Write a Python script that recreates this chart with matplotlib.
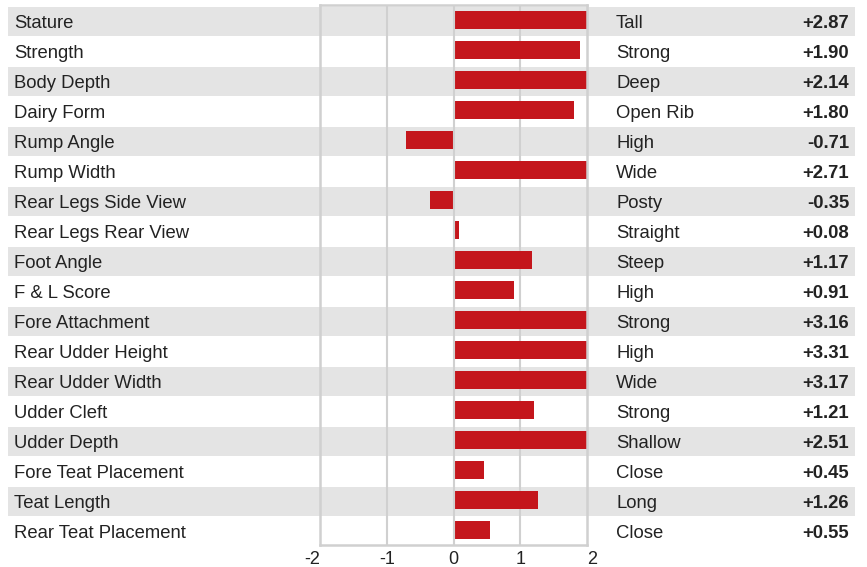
import matplotlib
matplotlib.use("Agg")
import matplotlib.pyplot as plt

plt.rcParams["font.family"] = ["Liberation Sans", "DejaVu Sans"]

traits = ["Stature", "Strength", "Body Depth", "Dairy Form", "Rump Angle", "Rump Width",
          "Rear Legs Side View", "Rear Legs Rear View", "Foot Angle", "F & L Score",
          "Fore Attachment", "Rear Udder Height", "Rear Udder Width", "Udder Cleft",
          "Udder Depth", "Fore Teat Placement", "Teat Length", "Rear Teat Placement"]
descriptors = ["Tall", "Strong", "Deep", "Open Rib", "High", "Wide", "Posty", "Straight",
               "Steep", "High", "Strong", "High", "Wide", "Strong", "Shallow", "Close",
               "Long", "Close"]
values = [2.87, 1.90, 2.14, 1.80, -0.71, 2.71, -0.35, 0.08, 1.17, 0.91,
          3.16, 3.31, 3.17, 1.21, 2.51, 0.45, 1.26, 0.55]
ticks = [-2, -1, 0, 1, 2]

W, H = 867, 567
BAR = "#c4161c"
BAND = "#e4e4e4"
GRID = "#d0d0d0"
TXT = "#222222"
n = len(traits)
row_px = 30.0
top_px = 5.0

fig = plt.figure(figsize=(W / 100, H / 100), dpi=100)

# background: alternating bands and text columns
bg = fig.add_axes([0, 0, 1, 1])
bg.set_xlim(0, W)
bg.set_ylim(-0.5 + (H - top_px) / row_px, -0.5 - top_px / row_px)
bg.axis("off")
for i in range(n):
    if i % 2 == 0:
        bg.axhspan(i - 0.5 + 1.5 / row_px, i + 0.5 + 1 / row_px, xmin=8 / W, xmax=855 / W,
                   color=BAND, lw=0, zorder=0)
    y = i + 3 / row_px
    bg.text(14, y, traits[i], fontsize=13.3, color=TXT, va="center")
    bg.text(616, y, descriptors[i], fontsize=13.3, color=TXT, va="center")
    bg.text(849, y, f"{values[i]:+.2f}", fontsize=13.3, color=TXT, va="center",
            ha="right", fontweight="bold")

# bar panel
ax = fig.add_axes([320 / W, (H - top_px - n * row_px) / H, 267 / W, n * row_px / H])
ax.patch.set_alpha(0)
ax.set_xlim(-2, 2)
ax.set_ylim(n - 0.5, -0.5)
for x in [-1, 1]:
    ax.axvline(x, color=GRID, lw=1.5, zorder=1)
ax.barh(range(n), values, height=0.6, color=BAR, zorder=2)
ax.axvline(0, color=GRID, lw=1.5, zorder=3)
for s in ax.spines.values():
    s.set_color(GRID)
    s.set_linewidth(1.8)
ax.set_yticks([])
ax.set_xticks(ticks)
ax.set_xticklabels([str(t) for t in ticks])
ax.tick_params(axis="x", length=0, pad=4, labelsize=13, labelcolor=TXT)
labels = ax.get_xticklabels()
labels[0].set_ha("right")
labels[-1].set_ha("left")

fig.savefig("out.png", dpi=100)
